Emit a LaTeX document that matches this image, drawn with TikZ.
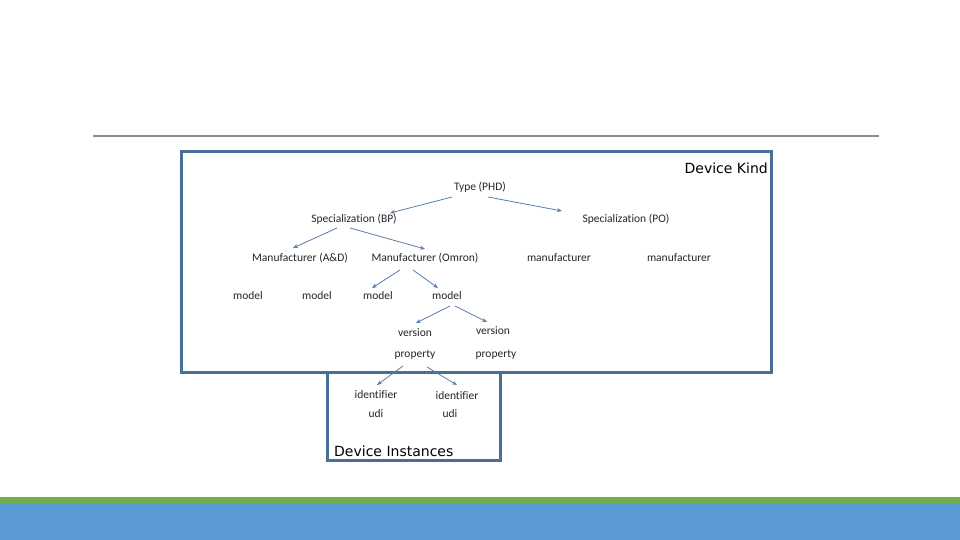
\documentclass[tikz,border=0pt]{standalone}
\usepackage{fontspec}
\setmainfont{Carlito}[Ligatures=CommonOff]
\newfontfamily\dvsans{DejaVu Sans}
\usetikzlibrary{arrows.meta}
\definecolor{boxblue}{HTML}{4A6F96}
\definecolor{arrblue}{HTML}{5B7DAA}
\definecolor{bandgreen}{HTML}{70AD47}
\definecolor{bandblue}{HTML}{5B9BD5}
\definecolor{txt}{HTML}{262626}
\tikzset{
  lbl/.style={font=\fontsize{11.5}{13}\selectfont, text=txt, inner sep=0pt},
  big/.style={font=\dvsans\fontsize{14}{17}\selectfont, text=black, inner sep=0pt},
  conn/.style={draw=arrblue, line width=0.8pt, -{Stealth[length=5pt,width=4pt]}},
  frame/.style={draw=boxblue, line width=3pt}
}
\begin{document}
\begin{tikzpicture}[x=1pt,y=-1pt]
\useasboundingbox (0,0) rectangle (960,540);
\fill[white] (0,0) rectangle (960,540);
% bands
\fill[bandgreen] (0,497) rectangle (960,504);
\fill[bandblue] (0,504) rectangle (960,540);
% rule
\draw[color=gray!90, line width=1.2pt] (93,136) -- (879,136);
% frames
\draw[frame] (327,372) -- (327,460) -- (500,460) -- (500,372);
\draw[frame] (181,152) rectangle (771,372);
\node[big, anchor=east] (dk) at (768,168) {Device Kind};
\node[big, anchor=west] (di) at (334,451) {Device Instances};
% tree nodes
\node[lbl] (t)  at (480,187) {Type (PHD)};
\node[lbl] (bp) at (354,219) {Specialization (BP)};
\node[lbl] (po) at (626,219) {Specialization (PO)};
\node[lbl] (ad) at (300,258) {Manufacturer (A\&D)};
\node[lbl] (om) at (425,258) {Manufacturer (Omron)};
\node[lbl] (mf1) at (559,258) {manufacturer};
\node[lbl] (mf2) at (679,258) {manufacturer};
\node[lbl] (m1) at (248,296) {model};
\node[lbl] (m2) at (317,296) {model};
\node[lbl] (m3) at (378,296) {model};
\node[lbl] (m4) at (447,296) {model};
\node[lbl] (v1) at (415,333) {version};
\node[lbl] (v2) at (493,331) {version};
\node[lbl] (p1) at (415,355) {property};
\node[lbl] (p2) at (496,355) {property};
\node[lbl] (i1) at (376,395) {identifier};
\node[lbl] (i2) at (457,396) {identifier};
\node[lbl] (u1) at (376,414) {udi};
\node[lbl] (u2) at (450,414) {udi};
% connectors
\draw[conn] ([shift={(-28,10)}]t.center) -- ([shift={(36,-6)}]bp.center);
\draw[conn] ([shift={(8,10)}]t.center) -- ([shift={(-64,-8)}]po.center);
\draw[conn] ([shift={(-17,9)}]bp.center) -- ([shift={(-7,-10)}]ad.center);
\draw[conn] ([shift={(-4,9)}]bp.center) -- ([shift={(0,-9)}]om.center);
\draw[conn] ([shift={(-25,12)}]om.center) -- ([shift={(-6,-8)}]m3.center);
\draw[conn] ([shift={(-12,12)}]om.center) -- ([shift={(-9,-8)}]m4.center);
\draw[conn] ([shift={(3,10)}]m4.center) -- ([shift={(1,-10)}]v1.center);
\draw[conn] ([shift={(8,10)}]m4.center) -- ([shift={(-6,-9)}]v2.center);
\draw[conn] ([shift={(-12,11)}]p1.center) -- ([shift={(1,-10)}]i1.center);
\draw[conn] ([shift={(12,12)}]p1.center) -- ([shift={(0,-11)}]i2.center);
\end{tikzpicture}
\end{document}
